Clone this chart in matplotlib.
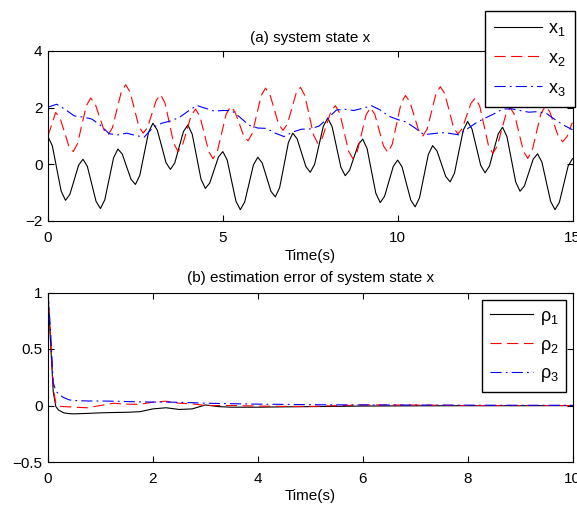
import numpy as np
import matplotlib.pyplot as plt

plt.rcParams['font.family'] = ['Liberation Sans', 'DejaVu Sans']
plt.rcParams['mathtext.fontset'] = 'custom'
plt.rcParams['mathtext.rm'] = 'Liberation Sans'
plt.rcParams['lines.scale_dashes'] = False

# state x1, sampled every 0.125 s
x1 = [
    0.98, 0.65, -0.15, -0.94,
    -1.27, -1.06, -0.55, -0.03,
    0.18, -0.07, -0.69, -1.31,
    -1.56, -1.25, -0.51, 0.23,
    0.54, 0.36, -0.09, -0.53,
    -0.71, -0.39, 0.37, 1.13,
    1.45, 1.21, 0.64, 0.06,
    -0.18, 0.05, 0.61, 1.16,
    1.39, 1.06, 0.27, -0.52,
    -0.85, -0.66, -0.20, 0.26,
    0.45, 0.15, -0.58, -1.30,
    -1.60, -1.33, -0.68, -0.02,
    0.25, 0.05, -0.45, -0.95,
    -1.15, -0.82, -0.03, 0.77,
    1.10, 0.90, 0.41, -0.08,
    -0.28, 0.00, 0.68, 1.35,
    1.63, 1.33, 0.62, -0.10,
    -0.40, -0.21, 0.25, 0.70,
    0.89, 0.56, -0.23, -1.02,
    -1.35, -1.13, -0.60, -0.07,
    0.15, -0.09, -0.68, -1.26,
    -1.50, -1.18, -0.42, 0.34,
    0.66, 0.47, 0.02, -0.43,
    -0.62, -0.31, 0.45, 1.20,
    1.51, 1.25, 0.61, -0.04,
    -0.30, -0.06, 0.51, 1.07,
    1.31, 0.98, 0.18, -0.62,
    -0.95, -0.76, -0.29, 0.18,
    0.37, 0.08, -0.62, -1.31,
    -1.60, -1.34, -0.70, -0.06,
    0.20,
]

# state x2: t=0, then every 0.125 s from 0.22 s, then t=15
x2 = [
    1.00,
    1.83, 1.63, 1.14, 0.65,
    0.45, 0.73, 1.40, 2.06,
    2.34, 2.15, 1.69, 1.23,
    1.04, 1.30, 1.93, 2.55,
    2.81, 2.56, 1.96, 1.35,
    1.10, 1.30, 1.78, 2.26,
    2.46, 2.17, 1.46, 0.74,
    0.45, 0.67, 1.20, 1.73,
    1.95, 1.69, 1.08, 0.46,
    0.20, 0.47, 1.12, 1.77,
    2.04, 1.86, 1.44, 1.01,
    0.83, 1.10, 1.76, 2.42,
    2.69, 2.47, 1.95, 1.42,
    1.20, 1.42, 1.96, 2.50,
    2.72, 2.43, 1.73, 1.03,
    0.74, 0.93, 1.41, 1.88,
    2.07, 1.80, 1.14, 0.47,
    0.20, 0.46, 1.10, 1.74,
    2.00, 1.77, 1.21, 0.65,
    0.42, 0.71, 1.43, 2.14,
    2.43, 2.22, 1.72, 1.21,
    1.00, 1.25, 1.87, 2.49,
    2.74, 2.50, 1.91, 1.31,
    1.07, 1.26, 1.71, 2.15,
    2.34, 2.06, 1.37, 0.67,
    0.39, 0.63, 1.20, 1.76,
    2.00, 1.74, 1.11, 0.47,
    0.21, 0.48, 1.13, 1.78,
    2.05, 1.87, 1.43, 0.98,
    0.80, 0.98, 1.40,
    1.47,
]

# state x3, sampled every 0.25 s
x3 = [
    2.02, 2.12, 1.93, 1.71, 1.67, 1.60, 1.38, 1.08,
    1.04, 1.10, 1.02, 0.96, 1.30, 1.45, 1.53, 1.65,
    1.87, 2.08, 1.98, 1.88, 1.90, 1.90, 1.65, 1.38,
    1.28, 1.27, 1.10, 0.98, 1.14, 1.24, 1.25, 1.35,
    1.62, 1.92, 1.94, 1.90, 1.98, 2.07, 1.92, 1.70,
    1.58, 1.49, 1.28, 1.05, 1.08, 1.12, 1.09, 1.04,
    1.26, 1.47, 1.63, 1.78, 1.95, 1.96, 1.90, 1.84,
    1.86, 1.80, 1.58, 1.38, 1.22,
]

# estimation errors
t_err = [0, 0.05, 0.1, 0.15, 0.2, 0.3, 0.4, 0.5, 0.75, 1.0, 1.25, 1.5, 1.75,
         2.0, 2.25, 2.5, 2.75, 3.0, 3.25, 3.5, 4.0, 4.5, 5.0, 6.0, 7.0, 8.0,
         9.0, 10.0]
rho1 = [1.0, 0.55, 0.12, -0.01, -0.04, -0.065, -0.072, -0.074, -0.07, -0.065,
        -0.062, -0.06, -0.055, -0.03, -0.02, -0.035, -0.03, 0.005, -0.01,
        -0.015, -0.015, -0.012, -0.01, -0.005, -0.003, -0.002, -0.002, -0.001]
rho2 = [1.0, 0.6, 0.15, 0.02, -0.005, -0.01, -0.012, -0.015, -0.02, 0.0,
        0.02, 0.012, 0.01, 0.03, 0.038, 0.02, 0.015, 0.0, 0.0, 0.0, -0.005,
        -0.008, -0.008, 0.005, 0.004, 0.0, 0.0, 0.0]
rho3 = [1.0, 0.65, 0.2, 0.13, 0.1, 0.07, 0.05, 0.044, 0.04, 0.04, 0.038,
        0.035, 0.032, 0.03, 0.03, 0.028, 0.025, 0.02, 0.018, 0.016, 0.012,
        0.01, 0.007, 0.005, 0.004, 0.003, 0.002, 0.002]

top_xticks = [0, 5, 10, 15]
top_yticks = [-2, 0, 2, 4]
bot_xticks = [0, 2, 4, 6, 8, 10]
bot_yticks = [-0.5, 0, 0.5, 1]
bot_ylabels = ['\u22120.5', '0', '0.5', '1']

t1 = np.linspace(0, 15, len(x1))
t2 = np.concatenate(([0.0], 0.22 + 0.125 * np.arange(len(x2) - 2), [15.0]))
t3 = np.linspace(0, 15, len(x3))

dash = (8, 4)
dashdot = (8, 3, 1.3, 3)
lw = 0.8

W, H = 577, 505
fig = plt.figure(figsize=(W / 100, H / 100), dpi=100)
ax1 = fig.add_axes([48 / W, 1 - 221 / H, 524.5 / W, 170 / H])
ax2 = fig.add_axes([48 / W, 1 - 462 / H, 524.5 / W, 169.5 / H])

leg_kw = dict(loc='upper right', bbox_transform=fig.transFigure,
              borderaxespad=0, fancybox=False, edgecolor='k', framealpha=1,
              fontsize=13, handletextpad=0.35)


def style_axes(ax):
    for s in ax.spines.values():
        s.set_linewidth(0.8)
    ax.tick_params(direction='in', top=True, right=True, length=4, width=0.8,
                   labelsize=11)
    ax.tick_params(axis='x', pad=7)
    ax.tick_params(axis='y', pad=4)


ax1.plot(t1, x1, color='k', lw=lw, label=r'$\mathregular{x_1}$')
ax1.plot(t2, x2, color='r', lw=lw, dashes=dash, label=r'$\mathregular{x_2}$')
ax1.plot(t3, x3, color='b', lw=lw, dashes=dashdot, label=r'$\mathregular{x_3}$')
ax1.set_xlim(0, 15)
ax1.set_ylim(-2, 4)
ax1.set_xticks(top_xticks)
ax1.set_yticks(top_yticks)
style_axes(ax1)
ax1.set_title('(a) system state x', fontsize=11, pad=6.5)
ax1.set_xlabel('Time(s)', fontsize=11, labelpad=3)
ax1.legend(bbox_to_anchor=(575 / W, 1 - 11 / H), handlelength=2.65,
           labelspacing=0.65, borderpad=0.5, **leg_kw)

ax2.plot(t_err, rho1, color='k', lw=lw, label='$\\mathregular{\u03c1_1}$')
ax2.plot(t_err, rho2, color='r', lw=lw, dashes=dash,
         label='$\\mathregular{\u03c1_2}$')
ax2.plot(t_err, rho3, color='b', lw=lw, dashes=dashdot,
         label='$\\mathregular{\u03c1_3}$')
ax2.set_xlim(0, 10)
ax2.set_ylim(-0.5, 1)
ax2.set_xticks(bot_xticks)
ax2.set_yticks(bot_yticks)
ax2.set_yticklabels(bot_ylabels)
style_axes(ax2)
ax2.set_title('(b) estimation error of system state x', fontsize=11, pad=7.5)
ax2.set_xlabel('Time(s)', fontsize=11, labelpad=2.5)
ax2.legend(bbox_to_anchor=(566 / W, 1 - 300 / H), handlelength=2.4,
           labelspacing=0.55, borderpad=0.42, **leg_kw)

fig.savefig('out.png', dpi=100)
